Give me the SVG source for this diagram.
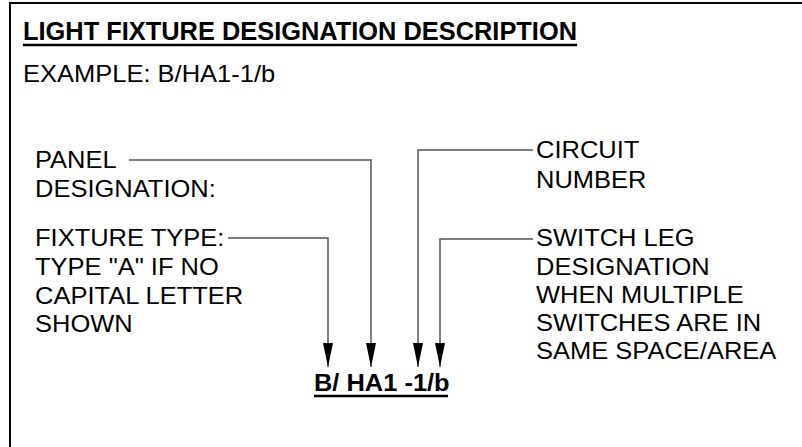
<svg xmlns="http://www.w3.org/2000/svg" width="802" height="447" viewBox="0 0 802 447">
  <style>
    .t { font-family: "Liberation Sans", Arial, sans-serif; font-size: 23px; fill: #000; }
    .h { font-family: "Liberation Sans", Arial, sans-serif; font-size: 26px; font-weight: bold; fill: #000; }
    .d { font-family: "Liberation Sans", Arial, sans-serif; font-size: 24px; font-weight: bold; fill: #000; }
    .frame { stroke: #000; stroke-width: 2; fill: none; }
    .ul { stroke: #000; stroke-width: 2.5; }
    .conn { stroke: #555; stroke-width: 1.5; fill: none; }
  </style>
  <defs>
    <marker id="arr" viewBox="0 -5 24 10" refX="24" refY="0" markerWidth="24" markerHeight="10" markerUnits="userSpaceOnUse" orient="auto">
      <path d="M0,-5 L24,0 L0,5 Z" fill="#000"/>
    </marker>
  </defs>
  <rect width="802" height="447" fill="#fff"/>
  <path class="frame" d="M10,447 V3 H802"/>

  <g id="header">
    <text class="h" x="23" y="40" textLength="554" lengthAdjust="spacingAndGlyphs">LIGHT FIXTURE DESIGNATION DESCRIPTION</text>
    <line class="ul" x1="23" y1="45" x2="577" y2="45"/>
    <g transform="translate(23,0) scale(1.109,1)">
      <text class="t" x="0" y="82">EXAMPLE: B/HA1-1/b</text>
    </g>
  </g>

  <g id="panel" transform="translate(35,0) scale(1.109,1)">
    <text class="t" x="0" y="168">PANEL</text>
    <text class="t" x="0" y="197">DESIGNATION:</text>
  </g>
  <g id="fixture" transform="translate(35,0) scale(1.109,1)">
    <text class="t" x="0" y="246">FIXTURE TYPE:</text>
    <text class="t" x="0" y="275">TYPE "A" IF NO</text>
    <text class="t" x="0" y="304">CAPITAL LETTER</text>
    <text class="t" x="0" y="332">SHOWN</text>
  </g>
  <g id="circuit" transform="translate(536,0) scale(1.109,1)">
    <text class="t" x="0" y="158">CIRCUIT</text>
    <text class="t" x="0" y="188">NUMBER</text>
  </g>
  <g id="switchleg" transform="translate(536,0) scale(1.109,1)">
    <text class="t" x="0" y="246">SWITCH LEG</text>
    <text class="t" x="0" y="275">DESIGNATION</text>
    <text class="t" x="0" y="303">WHEN MULTIPLE</text>
    <text class="t" x="0" y="331">SWITCHES ARE IN</text>
    <text class="t" x="0" y="359">SAME SPACE/AREA</text>
  </g>
  <g id="designation">
    <g transform="translate(314,0) scale(1.06,1)">
      <text class="d" x="0" y="391">B/ HA1 -1/b</text>
    </g>
    <line class="ul" x1="314" y1="396" x2="448" y2="396"/>
  </g>

  <g id="connectors">
    <path class="conn" d="M129,160 H371 V367" marker-end="url(#arr)"/>
    <path class="conn" d="M228,238 H328 V367" marker-end="url(#arr)"/>
    <path class="conn" d="M533,150 H418 V367" marker-end="url(#arr)"/>
    <path class="conn" d="M533,239 H440 V367" marker-end="url(#arr)"/>
  </g>
</svg>
